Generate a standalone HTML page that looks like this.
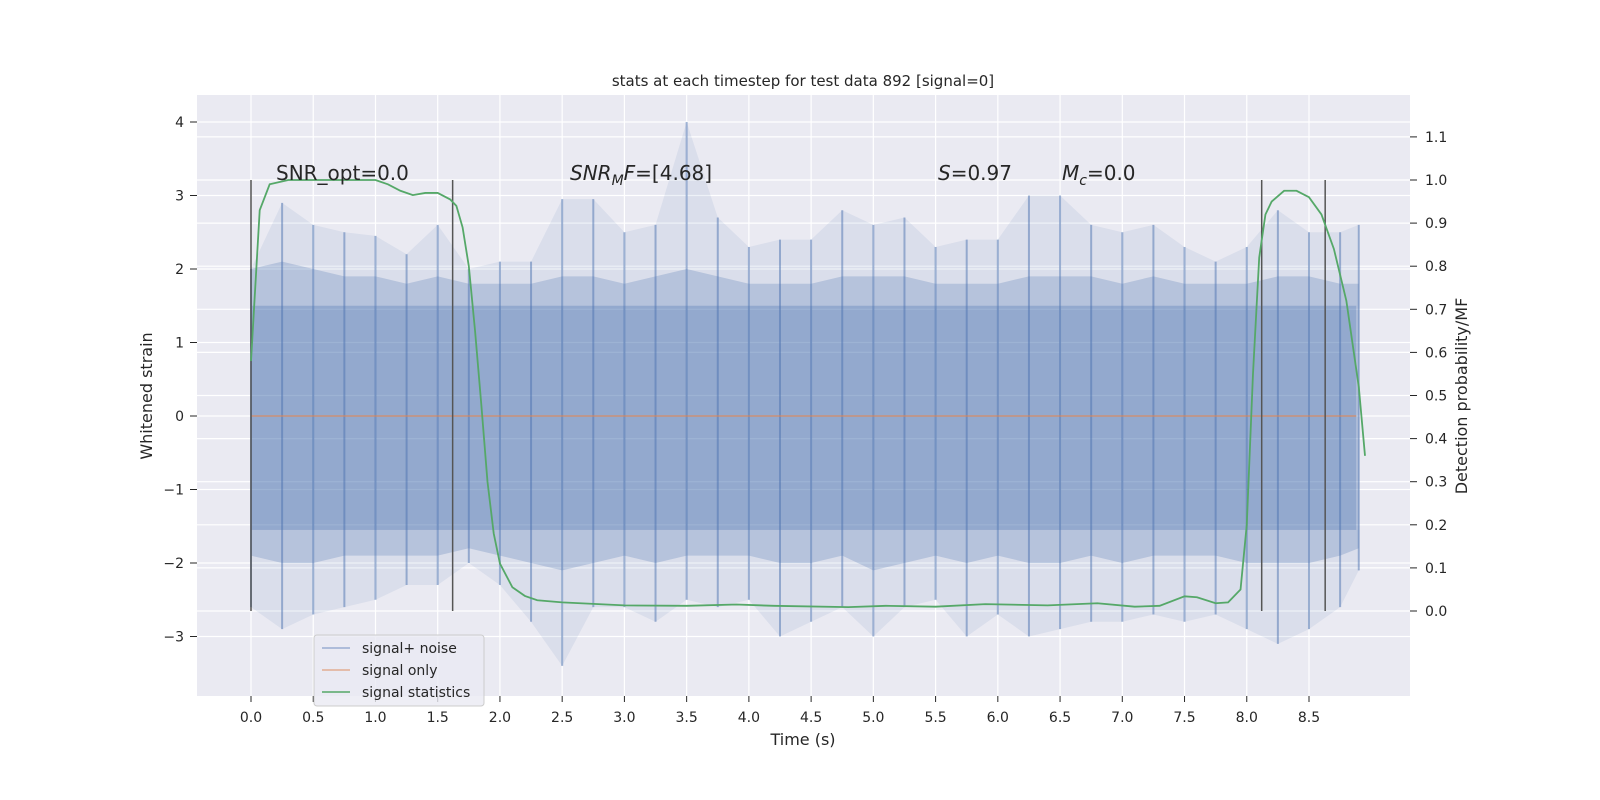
<!DOCTYPE html>
<html><head><meta charset="utf-8"><style>
html,body{margin:0;padding:0;background:#fff;overflow:hidden;width:1600px;height:800px;}
svg{display:block;}
svg text{font-family:"DejaVu Sans","Liberation Sans",sans-serif;fill:#262626;}
</style></head><body>
<svg id="chart" width="1600" height="800" viewBox="0 0 1600 800" xmlns="http://www.w3.org/2000/svg">
<rect x="0" y="0" width="1600" height="800" fill="#fff"/>
<rect x="197" y="95" width="1213" height="601" fill="#eaeaf2"/>
<g id="grid"></g>
<g id="marks"></g>
<g id="axes"></g>
<text x="803" y="86" text-anchor="middle" font-size="15">stats at each timestep for test data 892 [signal=0]</text>
<text x="276" y="180" font-size="20">SNR_opt=0.0</text>
<text x="570" y="180" font-size="20"><tspan font-style="italic">SNR</tspan><tspan font-style="italic" font-size="14" dy="5">M</tspan><tspan font-style="italic" dy="-5">F</tspan>=[4.68]</text>
<text x="938" y="180" font-size="20"><tspan font-style="italic">S</tspan>=0.97</text>
<text x="1062" y="180" font-size="20"><tspan font-style="italic">M</tspan><tspan font-style="italic" font-size="14" dy="5">c</tspan><tspan dy="-5">=0.0</tspan></text>
<text x="803" y="745" text-anchor="middle" font-size="16">Time (s)</text>
<text transform="translate(152,396) rotate(-90)" text-anchor="middle" font-size="16">Whitened strain</text>
<text transform="translate(1467,396) rotate(-90)" text-anchor="middle" font-size="16">Detection probability/MF</text>
<g>
<rect x="314" y="635" width="170" height="71" rx="3" fill="#eaeaf2" fill-opacity="0.8" stroke="#cccccc"/>
<line x1="322" y1="648" x2="350" y2="648" stroke="#4c72b0" stroke-opacity="0.5" stroke-width="1.5"/>
<text x="362" y="653" font-size="14">signal+ noise</text>
<line x1="322" y1="670" x2="350" y2="670" stroke="#dd8452" stroke-opacity="0.6" stroke-width="1.5"/>
<text x="362" y="675" font-size="14">signal only</text>
<line x1="322" y1="692" x2="350" y2="692" stroke="#55a868" stroke-width="1.5"/>
<text x="362" y="697" font-size="14">signal statistics</text>
</g>
</svg>
<script>
const xTicks=[0,0.5,1,1.5,2,2.5,3,3.5,4,4.5,5,5.5,6,6.5,7,7.5,8,8.5];
const yLeftTicks=[-3,-2,-1,0,1,2,3,4];
const yRightTicks=[0,0.1,0.2,0.3,0.4,0.5,0.6,0.7,0.8,0.9,1.0,1.1];
const envT=[0,0.25,0.5,0.75,1,1.25,1.5,1.75,2,2.25,2.5,2.75,3,3.25,3.5,3.75,4,4.25,4.5,4.75,5,5.25,5.5,5.75,6,6.25,6.5,6.75,7,7.25,7.5,7.75,8,8.25,8.5,8.75,8.9];
const envHi=[2.0,2.9,2.6,2.5,2.45,2.2,2.6,2.0,2.1,2.1,2.95,2.95,2.5,2.6,4.0,2.7,2.3,2.4,2.4,2.8,2.6,2.7,2.3,2.4,2.4,3.0,3.0,2.6,2.5,2.6,2.3,2.1,2.3,2.8,2.5,2.5,2.6];
const envLo=[-2.6,-2.9,-2.7,-2.6,-2.5,-2.3,-2.3,-2.0,-2.3,-2.8,-3.4,-2.6,-2.6,-2.8,-2.5,-2.6,-2.5,-3.0,-2.8,-2.6,-3.0,-2.6,-2.5,-3.0,-2.7,-3.0,-2.9,-2.8,-2.8,-2.7,-2.8,-2.7,-2.9,-3.1,-2.9,-2.6,-2.1];
const coreHi=1.5, coreLo=-1.55;
const midHi=[2.0,2.1,2.0,1.9,1.9,1.8,1.9,1.8,1.8,1.8,1.9,1.9,1.8,1.9,2.0,1.9,1.8,1.8,1.8,1.9,1.9,1.9,1.8,1.8,1.8,1.9,1.9,1.9,1.8,1.9,1.8,1.8,1.8,1.9,1.9,1.8,1.8];
const midLo=[-1.9,-2.0,-2.0,-1.9,-1.9,-1.9,-1.9,-1.8,-1.9,-2.0,-2.1,-2.0,-1.9,-2.0,-1.9,-1.9,-1.9,-2.0,-2.0,-1.9,-2.1,-2.0,-1.9,-2.0,-1.9,-2.0,-2.0,-1.9,-2.0,-1.9,-1.9,-1.9,-2.0,-2.0,-2.0,-1.9,-1.8];
const statT=[0,0.07,0.15,0.3,0.6,1.0,1.1,1.2,1.3,1.4,1.5,1.6,1.65,1.7,1.75,1.8,1.85,1.9,1.95,2.0,2.1,2.2,2.3,2.5,3.0,3.5,3.9,4.2,4.8,5.1,5.5,5.9,6.4,6.8,7.1,7.3,7.5,7.6,7.75,7.85,7.95,8.0,8.05,8.1,8.15,8.2,8.3,8.4,8.5,8.6,8.7,8.8,8.9,8.95];
const statV=[0.58,0.93,0.99,1.0,1.0,1.0,0.99,0.975,0.965,0.97,0.97,0.955,0.94,0.89,0.8,0.65,0.48,0.3,0.18,0.11,0.055,0.035,0.025,0.02,0.013,0.012,0.015,0.012,0.009,0.012,0.01,0.016,0.013,0.018,0.01,0.012,0.034,0.032,0.018,0.02,0.05,0.2,0.55,0.82,0.92,0.95,0.975,0.975,0.96,0.92,0.84,0.72,0.52,0.36];
const windowT=[0,1.62,8.12,8.63];
const signalEnd=8.88;
const NS='http://www.w3.org/2000/svg';
const X=t=>251+124.47*t, YL=v=>416-73.5*v, YR=p=>611-431*p;
function mk(tag,attrs,parent){const e=document.createElementNS(NS,tag);for(const k in attrs)e.setAttribute(k,attrs[k]);parent.appendChild(e);return e;}
const grid=document.getElementById('grid'),marks=document.getElementById('marks'),axes=document.getElementById('axes');
xTicks.forEach(t=>{const l=mk('line',{x1:X(t),x2:X(t),y1:95,y2:696,stroke:'#fff','stroke-width':1.2},grid);

const tx=mk('text',{x:X(t),y:722,'text-anchor':'middle','font-size':14},axes);tx.textContent=t.toFixed(1);

mk('line',{x1:X(t),x2:X(t),y1:696,y2:702,stroke:'#262626'},axes);});
yLeftTicks.forEach(v=>{const l=mk('line',{x1:197,x2:1410,y1:YL(v),y2:YL(v),stroke:'#fff','stroke-width':1.2},grid);

const tx=mk('text',{x:184,y:YL(v)+5,'text-anchor':'end','font-size':14},axes);tx.textContent=(v<0?'\u2212'+(-v):v);

mk('line',{x1:190,x2:197,y1:YL(v),y2:YL(v),stroke:'#262626'},axes);});
yRightTicks.forEach(p=>{const l=mk('line',{x1:197,x2:1410,y1:YR(p),y2:YR(p),stroke:'#fff','stroke-width':1.2},grid);

const tx=mk('text',{x:1425,y:YR(p)+5,'font-size':14},axes);tx.textContent=p.toFixed(1);

mk('line',{x1:1410,x2:1417,y1:YR(p),y2:YR(p),stroke:'#262626'},axes);});
let d='M'+envT.map((t,i)=>X(t)+','+YL(envHi[i])).join(' L')+' L'+envT.map((t,i)=>X(t)+','+YL(envLo[i])).reverse().join(' L')+'Z';
const env=mk('path',{d:d,fill:'#4c72b0','fill-opacity':0.1},marks);

let d2='M'+envT.map((t,i)=>X(t)+','+YL(midHi[i])).join(' L')+' L'+envT.map((t,i)=>X(t)+','+YL(midLo[i])).reverse().join(' L')+'Z';
const mid=mk('path',{d:d2,fill:'#4c72b0','fill-opacity':0.25},marks);

envT.forEach((t,i)=>{const s=mk('line',{x1:X(t),x2:X(t),y1:YL(envHi[i]),y2:YL(envLo[i]),stroke:'#4c72b0','stroke-opacity':0.5,'stroke-width':2},marks);
});
const core=mk('rect',{x:X(0),y:YL(coreHi),width:X(signalEnd)-X(0),height:YL(coreLo)-YL(coreHi),fill:'#4c72b0','fill-opacity':0.32},marks);

const sig=mk('line',{x1:X(0),x2:X(signalEnd),y1:YL(0),y2:YL(0),stroke:'#dd8452','stroke-opacity':0.7,'stroke-width':1.5},marks);

windowT.forEach(t=>{const w=mk('line',{x1:X(t),x2:X(t),y1:YR(1.0),y2:YR(0),stroke:'#555','stroke-width':1.5},marks);
});
const st=mk('polyline',{points:statT.map((t,i)=>X(t)+','+YR(statV[i])).join(' '),fill:'none',stroke:'#55a868','stroke-width':1.8},marks);

</script>
</body></html>
